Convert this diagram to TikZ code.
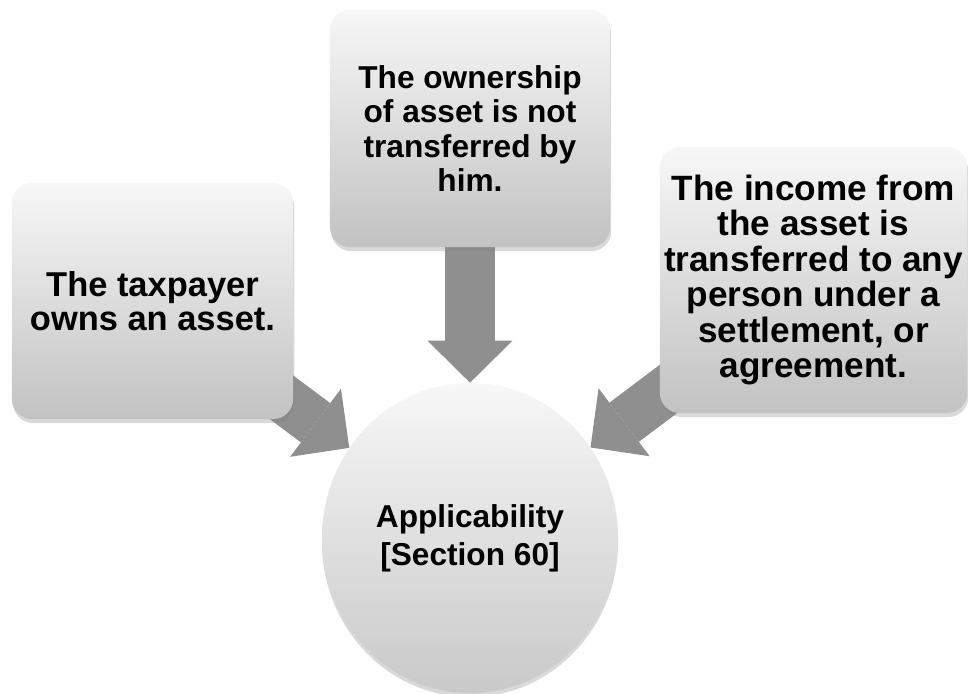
\documentclass[tikz,border=0pt]{standalone}
\usepackage{fontspec}
\setmainfont{Liberation Sans}
\usepackage{tikz}
\usetikzlibrary{shapes.geometric,arrows.meta,shadows}
\usepackage{xcolor}
\definecolor{arrowGray}{HTML}{8F8F8F}
\definecolor{boxTop}{HTML}{F7F7F7}
\definecolor{boxBottom}{HTML}{C2C2C2}
\definecolor{hubBottom}{HTML}{C9C9C9}
\pgfdeclarelayer{bg}
\pgfdeclarelayer{mid}
\pgfsetlayers{bg,mid,main}

\begin{document}
\begin{tikzpicture}[x=0.025cm, y=-0.025cm,
    condbox/.style={rectangle, rounded corners=0.5cm, top color=boxTop, bottom color=boxBottom,
        align=center, inner sep=0pt, font=\fontsize{22.5}{24.5}\selectfont\bfseries,
        drop shadow={shadow xshift=0.03cm, shadow yshift=-0.1cm, opacity=0.3}},
    hub/.style={ellipse, inner sep=0pt, top color=boxTop, bottom color=hubBottom,
        align=center, font=\fontsize{22.5}{27}\selectfont\bfseries,
        drop shadow={shadow xshift=0cm, shadow yshift=-0.1cm, opacity=0.3}},
    flowarrow/.style={draw=arrowGray, line width=1.225cm,
        -{Triangle[length=1.05cm, width=2.125cm, line width=0pt]}},
]
    \useasboundingbox (0,0) rectangle (968,693);

    % centre
    \begin{pgfonlayer}{bg}
    \node[hub, minimum width=7.4cm, minimum height=7.75cm] (app) at (470,538)
        {Applicability\\{[Section 60]}};
    \end{pgfonlayer}

    % conditions
    \node[condbox, minimum width=7.03cm, minimum height=5.9cm,
        font=\fontsize{24.5}{24}\selectfont\bfseries] (owns) at (152.5,301)
        {The taxpayer\\owns an asset.};
    \node[condbox, minimum width=7.0cm, minimum height=5.93cm] (notx) at (470,128.5)
        {The ownership\\of asset is not\\transferred by\\him.};
    \node[condbox, minimum width=7.68cm, minimum height=6.65cm,
        font=\fontsize{25}{25.2}\selectfont\bfseries] (income) at (813.5,280)
        {The income from\\the asset is\\transferred to any\\person under a\\settlement, or\\agreement.};

    % arrows into the centre
    \begin{pgfonlayer}{mid}
    \draw[flowarrow] (owns.center) -- (app);
    \draw[flowarrow] (notx.center) -- (app);
    \draw[flowarrow] (income.center) -- (app);
    \end{pgfonlayer}
\end{tikzpicture}
\end{document}
